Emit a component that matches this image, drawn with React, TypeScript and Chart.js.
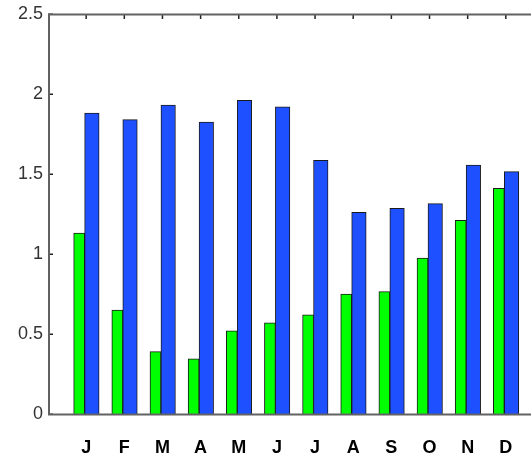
import React, { useEffect, useRef } from "react";
import { Chart, registerables } from "chart.js";

Chart.register(...registerables);

const months = ["J", "F", "M", "A", "M", "J", "J", "A", "S", "O", "N", "D"];
const greenValues = [1.13, 0.65, 0.39, 0.345, 0.52, 0.57, 0.62, 0.75, 0.765, 0.975, 1.21, 1.41];
const blueValues = [1.88, 1.84, 1.93, 1.825, 1.96, 1.92, 1.585, 1.26, 1.285, 1.315, 1.555, 1.515];
const yTickValues = [0, 0.5, 1, 1.5, 2, 2.5];

const axisPlugin = {
  id: "matlabAxes",
  afterDatasetsDraw(chart: any) {
    const { ctx, chartArea } = chart;
    const xs = chart.scales.x;
    const ys = chart.scales.y;
    ctx.save();
    ctx.strokeStyle = "#222";
    ctx.lineWidth = 1.5;
    yTickValues.forEach((v) => {
      const py = Math.round(ys.getPixelForValue(v)) + 0.25;
      ctx.beginPath();
      ctx.moveTo(chartArea.left, py);
      ctx.lineTo(chartArea.left + 5, py);
      ctx.stroke();
    });
    months.forEach((_, i) => {
      const px = xs.getPixelForValue(i + 1);
      ctx.beginPath();
      ctx.moveTo(px, chartArea.top);
      ctx.lineTo(px, chartArea.top + 5);
      ctx.stroke();
    });
    ctx.strokeStyle = "#626262";
    ctx.lineWidth = 2;
    ctx.beginPath();
    ctx.moveTo(chartArea.left + 1, chartArea.top);
    ctx.lineTo(chartArea.left + 1, chartArea.bottom + 1);
    ctx.moveTo(chartArea.left, chartArea.top + 0.5);
    ctx.lineTo(chartArea.right, chartArea.top + 0.5);
    ctx.moveTo(chartArea.left, chartArea.bottom + 0.5);
    ctx.lineTo(chartArea.right, chartArea.bottom + 0.5);
    ctx.stroke();
    ctx.restore();
  },
};

export default function App() {
  const ref = useRef<HTMLCanvasElement | null>(null);
  useEffect(() => {
    if (!ref.current) return;
    const chart = new Chart(ref.current, {
      type: "bar",
      data: {
        datasets: [
          {
            label: "green",
            data: months.map((_, i) => ({ x: i + 1 - 0.183, y: greenValues[i] })),
            backgroundColor: "#00ff00",
            borderColor: "#1a1a1a",
            borderWidth: 1,
            barThickness: 11,
            grouped: false,
            order: 1,
          },
          {
            label: "blue",
            data: months.map((_, i) => ({ x: i + 1 + 0.15, y: blueValues[i] })),
            backgroundColor: "#1e50ff",
            borderColor: "#1a1a1a",
            borderWidth: 1,
            barThickness: 14.5,
            grouped: false,
            order: 0,
          },
        ],
      } as any,
      options: {
        animation: false,
        responsive: false,
        maintainAspectRatio: false,
        layout: { padding: { top: 14, right: 0, bottom: 0, left: 0 } },
        plugins: { legend: { display: false }, tooltip: { enabled: false } },
        scales: {
          x: {
            type: "linear",
            min: 0,
            max: 12.66,
            offset: false,
            grid: { display: false, drawTicks: false, offset: false },
            border: { display: false },
            afterBuildTicks: (s: any) => {
              s.ticks = months.map((_, i) => ({ value: i + 1 }));
            },
            afterFit: (s: any) => {
              s.height = 41;
              s.paddingLeft = 0;
              s.paddingRight = 0;
            },
            ticks: {
              autoSkip: false,
              maxRotation: 0,
              padding: 23,
              color: "#000",
              font: { family: "'Liberation Sans', Arial, sans-serif", size: 18, weight: "bold" },
              callback: (v: any) => months[Math.round(v) - 1] ?? "",
            },
          },
          y: {
            min: 0,
            max: 2.5,
            grid: { display: false, drawTicks: false },
            border: { display: false },
            afterBuildTicks: (s: any) => {
              s.ticks = yTickValues.map((v) => ({ value: v }));
            },
            afterFit: (s: any) => {
              s.width = 48;
              s.paddingTop = 0;
              s.paddingBottom = 0;
            },
            ticks: {
              padding: 5,
              color: "#333",
              font: { family: "'Liberation Sans', Arial, sans-serif", size: 18 },
              callback: (v: any) => String(v),
            },
          },
        },
      } as any,
      plugins: [axisPlugin],
    });
    return () => chart.destroy();
  }, []);
  return (
    <div style={{ position: "fixed", left: 0, top: 0, width: 531, height: 455, background: "#fff" }}>
      <canvas ref={ref} width={531} height={455} />
    </div>
  );
}
